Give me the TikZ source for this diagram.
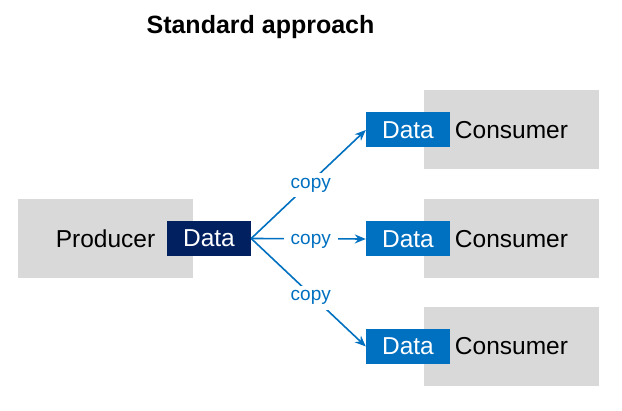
\documentclass[tikz,border=0pt]{standalone}
\usepackage{fontspec}
\setmainfont{Liberation Sans}
\usetikzlibrary{arrows.meta, positioning}
\definecolor{rolegray}{RGB}{217,217,217}
\definecolor{datablue}{RGB}{0,112,192}
\definecolor{datanavy}{RGB}{0,32,96}

\begin{document}
\begin{tikzpicture}[
    x=1pt, y=-1pt,
    role/.style={fill=rolegray, minimum width=175pt, minimum height=79pt,
                 inner sep=0pt, font=\fontsize{24.5}{29}\selectfont},
    datum/.style={minimum width=84pt, minimum height=35pt, inner sep=0pt,
                  text=white, font=\fontsize{24.5}{29}\selectfont},
    copyline/.style={->, line width=1.6pt, datablue},
    >={Stealth[length=11pt, width=9pt]}
  ]
  \useasboundingbox (0,0) rectangle (622,411);
  \node[font=\bfseries\fontsize{25}{30}\selectfont] (title) at (260.5,27) {Standard approach};

  \node[role] (prod) at (105.5,239) {Producer};
  \node[datum, fill=datanavy] (dat) at (209,238.5) {Data};

  % Consumers, each with its own copy
  \foreach \i/\y in {1/130, 2/239, 3/346.5} {
    \node[role] (cons\i) at (511.5,\y) {Consumer};
    \node[datum, fill=datablue] (d\i) at (408,\y) {Data};
    \draw[copyline] (dat.east) -- (d\i.west)
      node[pos=0.52, fill=white, inner xsep=7pt, inner ysep=5pt, yshift=-3pt,
           text=datablue, font=\fontsize{19}{22}\selectfont] (c\i) {copy};
  }
\end{tikzpicture}
\end{document}
